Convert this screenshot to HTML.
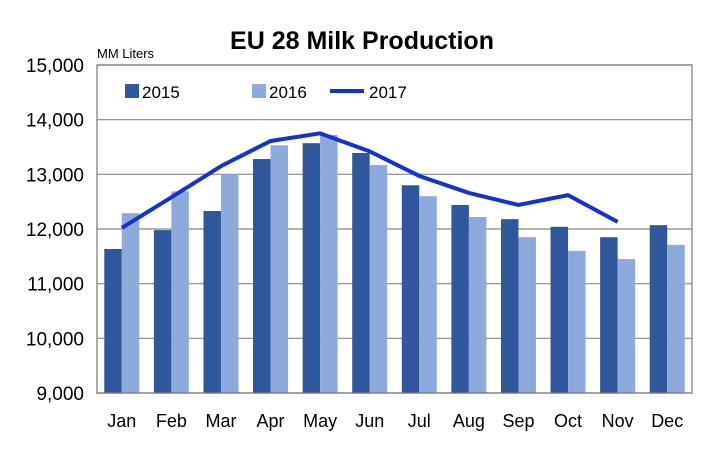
<!DOCTYPE html>
<html><head><meta charset="utf-8"><style>
body{margin:0;background:#fff;font-family:"Liberation Sans",sans-serif;}
svg text{font-family:"Liberation Sans",sans-serif;}
</style></head><body>
<svg id="chart" width="720" height="450">
<text x="362" y="49" text-anchor="middle" font-size="25" font-weight="bold">EU 28 Milk Production</text>
<text x="97" y="58" font-size="13">MM Liters</text>
<g id="grid"></g><g id="bars"></g><g id="line"></g><g id="axes"></g>
<g>
<rect x="125" y="84" width="14" height="14" fill="#30569b"/>
<text x="142" y="98" font-size="17">2015</text>
<rect x="252" y="84" width="14" height="14" fill="#8eaadc"/>
<text x="269" y="98" font-size="17">2016</text>
<line x1="330" y1="91" x2="364" y2="91" stroke="#1432d2" stroke-width="4"/>
<text x="369" y="98" font-size="17">2017</text>
</g>
</svg>
<script>
const categories=["Jan","Feb","Mar","Apr","May","Jun","Jul","Aug","Sep","Oct","Nov","Dec"];
const series2015=[11635,11980,12330,13280,13570,13390,12800,12440,12180,12040,11850,12070];
const series2016=[12290,12690,13000,13530,13720,13170,12600,12220,11850,11600,11450,11710];
const series2017=[12020,12580,13150,13610,13750,13420,12970,12660,12440,12620,12130];
const yTicks=[9000,10000,11000,12000,13000,14000,15000];
const L=97,R=692,T=65,B=393,yMin=9000,yMax=15000;
const NS="http://www.w3.org/2000/svg";
const y=v=>B-(v-yMin)/(yMax-yMin)*(B-T);
const bw=(R-L)/categories.length;
const xc=i=>L+bw*(i+0.5);
function mk(tag,attrs,parent){const e=document.createElementNS(NS,tag);for(const k in attrs)e.setAttribute(k,attrs[k]);document.getElementById(parent).appendChild(e);return e;}
yTicks.forEach(t=>{
  const g=mk("line",{x1:L,x2:R,y1:y(t),y2:y(t),stroke:"#888","stroke-width":1.2},"grid");
  
  
  const tx=mk("text",{x:L-13,y:y(t)+7,"text-anchor":"end","font-size":19},"axes");
  tx.textContent=t.toLocaleString("en-US");
  
  
});
categories.forEach((c,i)=>{
  const b1=mk("rect",{x:xc(i)-17.5,y:y(series2015[i]),width:17.5,height:B-y(series2015[i]),fill:"#30569b"},"bars");
  
  
  const b2=mk("rect",{x:xc(i),y:y(series2016[i]),width:17.5,height:B-y(series2016[i]),fill:"#8eaadc"},"bars");
  
  
  const tx=mk("text",{x:xc(i),y:427,"text-anchor":"middle","font-size":18},"axes");
  tx.textContent=c;
  
  
});
const pl=mk("polyline",{points:series2017.map((v,i)=>xc(i)+","+y(v)).join(" "),fill:"none",stroke:"#1432d2","stroke-width":4,"stroke-linejoin":"round"},"line");


const fr=mk("rect",{x:L,y:T,width:R-L,height:B-T,fill:"none",stroke:"#777","stroke-width":1.2},"axes");


</script>
</body></html>
